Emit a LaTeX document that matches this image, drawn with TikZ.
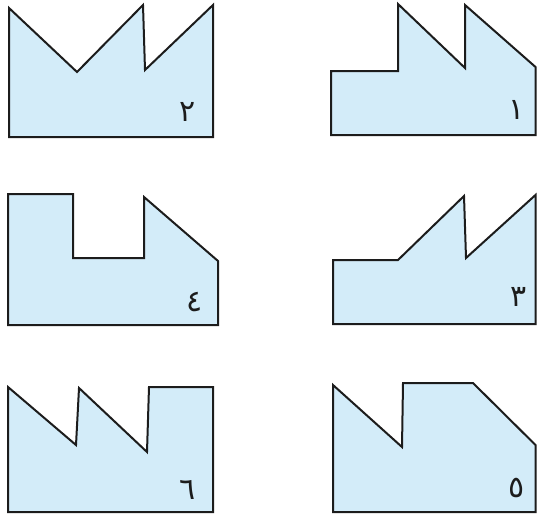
\documentclass[tikz,border=0pt]{standalone}
\usepackage{fontspec}
\newfontfamily\arabicfont[Script=Arabic]{DejaVu Sans}
\definecolor{panelfill}{HTML}{D3ECF9}
\definecolor{outline}{HTML}{1C1C1C}

\begin{document}
\begin{tikzpicture}[
  x=1pt, y=-1pt,
  panel/.style={draw=outline, fill=panelfill, line width=2pt, line join=miter},
  digit/.style={font=\arabicfont\fontsize{30}{30}\selectfont, text=outline, inner sep=0pt},
]
\useasboundingbox (0,0) rectangle (537,519);
% top row
\draw[panel] (9,8) -- (77,72) -- (143,5) -- (145,70) -- (213,5) -- (213,137) -- (9,137) -- cycle;
\node[digit] (two) at (188,112) {٢};
\draw[panel] (331,71) -- (398,71) -- (398,4) -- (465,68) -- (465,5) -- (535.5,67) -- (535.5,135) -- (331,135) -- cycle;
\node[digit] (one) at (517,110) {١};
% middle row
\draw[panel] (8,194) -- (73,194) -- (73,258) -- (144,258) -- (144,197) -- (218,261) -- (218,325) -- (8,325) -- cycle;
\node[digit] (four) at (195,302) {٤};
\draw[panel] (333,260) -- (398,260) -- (464,196) -- (466,258) -- (535.5,195) -- (535.5,324) -- (333,324) -- cycle;
\node[digit] (three) at (519,297) {٣};
% bottom row
\draw[panel] (8,387) -- (76,445) -- (79,388) -- (147,452) -- (149,387) -- (213,387) -- (213,512) -- (8,512) -- cycle;
\node[digit] (six) at (188,490) {٦};
\draw[panel] (333,385) -- (402,447) -- (403,383) -- (473,383) -- (535.5,445) -- (535.5,512) -- (333,512) -- cycle;
\node[digit] (five) at (517,488) {٥};
\end{tikzpicture}
\end{document}
